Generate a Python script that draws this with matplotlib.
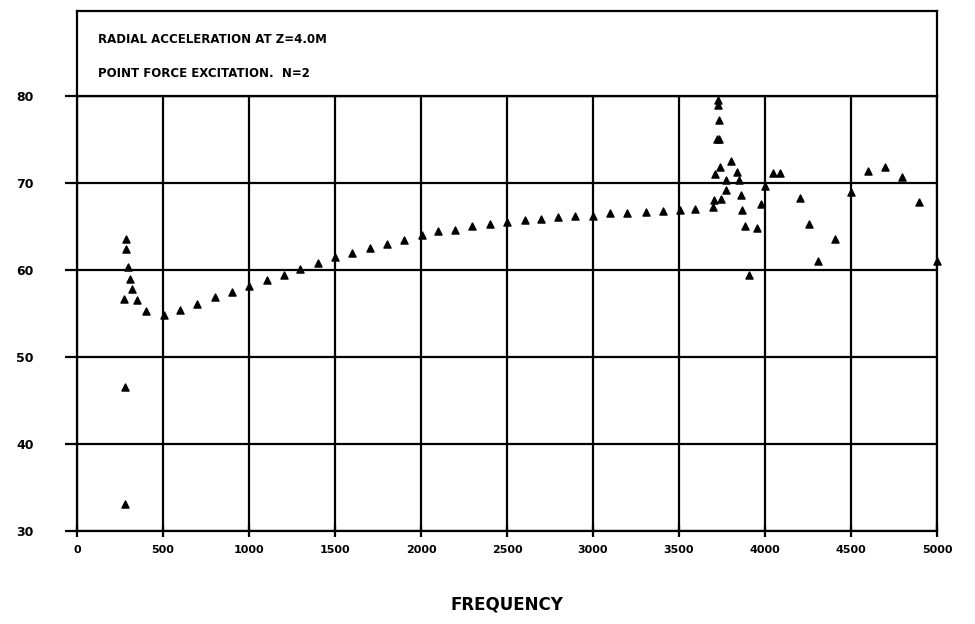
import matplotlib
matplotlib.use("Agg")
import matplotlib.pyplot as plt

plt.rcParams['font.family'] = ['DejaVu Sans']

# data (frequency, level)
freq = [273, 283, 287, 298, 308, 322, 349, 401, 277, 279,
        503, 600, 699, 800, 901, 1002, 1104, 1203, 1298, 1401,
        1502, 1601, 1702, 1804, 1901, 2004, 2100, 2198, 2298, 2400,
        2500, 2602, 2700, 2798, 2896, 3000, 3100, 3200, 3306, 3405,
        3506, 3595, 3696,
        3725, 3727, 3730, 3722, 3732, 3803, 3741, 3836, 3712, 3774,
        3846, 3774, 3858, 3706, 3745, 3867, 3882, 3952, 3905, 3978,
        3998, 4046, 4089, 4203, 4253, 4308, 4405, 4500, 4599, 4699,
        4798, 4897, 5000]
level = [56.7, 63.6, 62.4, 60.3, 59.0, 57.8, 56.5, 55.3, 46.5, 33.1,
         54.8, 55.4, 56.1, 56.9, 57.5, 58.2, 58.9, 59.4, 60.1, 60.8,
         61.5, 61.9, 62.5, 63.0, 63.4, 64.0, 64.5, 64.6, 65.1, 65.3,
         65.5, 65.7, 65.9, 66.1, 66.2, 66.2, 66.5, 66.6, 66.7, 66.8,
         66.9, 67.0, 67.2,
         79.5, 79.0, 77.2, 75.0, 75.0, 72.5, 71.8, 71.3, 71.0, 70.4,
         70.4, 69.2, 68.6, 68.0, 68.2, 66.9, 65.0, 64.8, 59.4, 67.6,
         69.6, 71.2, 71.2, 68.3, 65.3, 61.0, 63.6, 69.0, 71.4, 71.8,
         70.7, 67.8, 61.0]

xticks = [0, 500, 1000, 1500, 2000, 2500, 3000, 3500, 4000, 4500, 5000]
yticks = [30, 40, 50, 60, 70, 80]
title1 = "RADIAL ACCELERATION AT Z=4.0M"
title2 = "POINT FORCE EXCITATION.  N=2"

W, H = 975, 624
fig = plt.figure(figsize=(W / 100, H / 100), dpi=100)

ax = fig.add_axes([77 / W, 1 - 531 / H, 860 / W, 435 / H])
ax.scatter(freq, level, marker='^', s=26, color='black', clip_on=False, zorder=3)

ax.set_xlim(0, 5000)
ax.set_ylim(30, 80)
ax.set_xticks(xticks)
ax.set_yticks(yticks)
ax.grid(True, color='black', linewidth=1.6)
for sp in ax.spines.values():
    sp.set_linewidth(1.6)
ax.tick_params(axis='y', direction='out', length=9, width=1.6, pad=22,
               labelsize=9)
ax.tick_params(axis='x', direction='inout', length=8, width=1.6, pad=6,
               labelsize=8)
for lab in ax.get_xticklabels() + ax.get_yticklabels():
    lab.set_fontweight('bold')
ax.set_xlabel("FREQUENCY", fontsize=12, fontweight='bold', labelpad=29)

# header box above the plot
box = fig.add_axes([77 / W, 1 - 96 / H, 860 / W, 85 / H])
box.set_xticks([])
box.set_yticks([])
for sp in box.spines.values():
    sp.set_linewidth(1.6)
box.text(0.024, 0.67, title1, transform=box.transAxes, fontsize=8.5,
         fontweight='bold', va='center', ha='left')
box.text(0.024, 0.27, title2, transform=box.transAxes, fontsize=8.5,
         fontweight='bold', va='center', ha='left')

fig.savefig("out.png", dpi=100)
